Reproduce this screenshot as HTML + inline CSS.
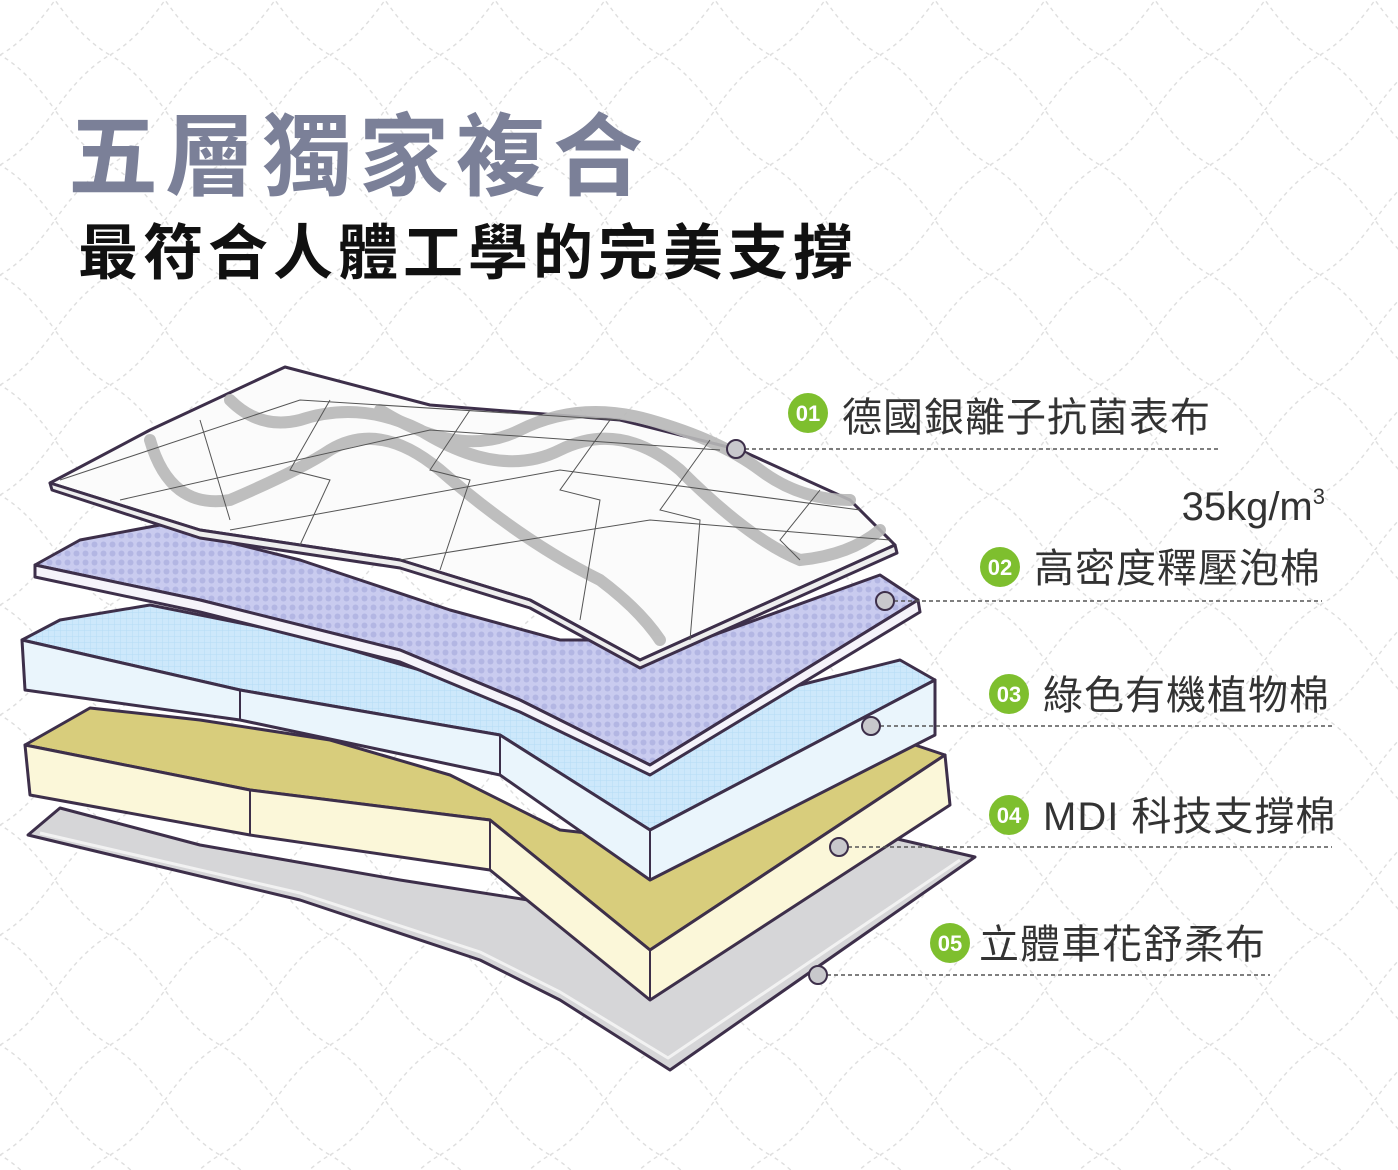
<!DOCTYPE html>
<html><head><meta charset="utf-8"><style>
html,body{margin:0;padding:0;background:#fff}
svg{display:block}
.t{font-family:"Liberation Sans","Noto Sans CJK TC",sans-serif}
</style></head><body>
<svg width="1398" height="1170" viewBox="0 0 1398 1170" xmlns="http://www.w3.org/2000/svg">
<defs>
<pattern id="bg" width="110" height="110" patternUnits="userSpaceOnUse" x="0" y="0">
<path d="M0 55 Q27 40 55 0 Q83 40 110 55 Q83 70 55 110 Q27 70 0 55Z" fill="none" stroke="#dedede" stroke-width="1.4" stroke-dasharray="4 4"/>
</pattern>
<pattern id="dots" width="9" height="9" patternUnits="userSpaceOnUse">
<rect width="9" height="9" fill="#c9cbef"/><circle cx="4.5" cy="4.5" r="3" fill="#b3b6e3"/>
</pattern>
<pattern id="grid" width="6" height="6" patternUnits="userSpaceOnUse">
<rect width="6" height="6" fill="#cde8fb"/><path d="M0 0H6M0 0V6" stroke="#b5dcf6" stroke-width="1"/>
</pattern>
</defs>
<rect width="1398" height="1170" fill="url(#bg)"/>

<text class="t" x="68" y="188" font-size="90" font-weight="bold" fill="#7b8098" letter-spacing="7">五層獨家複合</text>
<text class="t" x="78" y="274" font-size="60" font-weight="bold" fill="#111" letter-spacing="5">最符合人體工學的完美支撐</text>

<g stroke="#3d2f4a" stroke-width="3" stroke-linejoin="round">
<!-- layer 5 grey -->
<path d="M28 835 L60 808 L200 845 L400 880 L560 905 L700 850 L880 835 L975 857 L670 1070 L560 1000 L480 960 L300 900 Z" fill="#d6d6d8"/>
<path d="M40 833 L300 893 L480 952 L560 992 L668 1058 L960 860" fill="none" stroke="#f2f2f2" stroke-width="3"/>
<!-- layer 4 yellow -->
<path d="M25 745 L90 708 L200 720 L330 740 L450 775 L560 830 L650 840 L780 790 L900 740 L945 755 L650 950 L490 820 L250 790 Z" fill="#d8cd7c"/>
<path d="M25 745 L250 790 L490 820 L650 950 L945 755 L950 805 L650 1000 L490 870 L250 835 L30 795 Z" fill="#fbf7d9"/>
<path d="M250 790 L250 835 M490 820 L490 870 M650 950 L650 1000" fill="none" stroke-width="2"/>
<!-- layer 3 blue -->
<path d="M22 640 L60 620 L150 605 L300 635 L420 670 L540 700 L620 720 L780 690 L900 660 L935 680 L650 830 L500 735 L240 690 Z" fill="url(#grid)"/>
<path d="M22 640 L240 690 L500 735 L650 830 L935 680 L935 735 L650 880 L500 775 L240 720 L25 690 Z" fill="#eaf5fc"/>
<path d="M240 690 L240 720 M500 735 L500 775 M650 830 L650 880" fill="none" stroke-width="2"/>
<!-- layer 2 purple -->
<path d="M35 565 L80 540 L160 525 L300 560 L450 610 L560 640 L700 640 L880 575 L918 600 L650 765 L520 700 L400 650 L200 600 Z" fill="url(#dots)"/>
<path d="M35 565 L200 600 L400 650 L520 700 L650 765 L918 600 L920 612 L650 775 L520 712 L400 662 L200 612 L35 577 Z" fill="#f5f3fa"/>
<!-- layer 1 white -->
<path d="M50 483 L150 430 L285 367 L430 405 L620 420 L740 450 L850 500 L895 545 L640 660 L530 600 L400 560 L200 530 Z" fill="#fbfbfb"/>
<path d="M50 483 L200 530 L400 560 L530 600 L640 660 L895 545 L897 553 L640 668 L530 608 L400 568 L200 538 L52 490 Z" fill="#eeeeee"/>
</g>
<!-- quilt waves -->
<g fill="none" stroke="#b8b8b8" stroke-width="12" stroke-linecap="round" opacity="0.9">
<path d="M150 440 Q170 510 230 500 Q300 470 330 450 Q380 420 440 470 Q520 540 600 580 Q640 610 660 640"/>
<path d="M230 400 Q260 430 300 420 Q360 400 420 430 Q500 480 560 450 Q620 420 680 470 Q750 540 800 560 Q850 555 880 530"/>
<path d="M380 410 Q460 460 520 430 Q580 400 650 420 Q720 440 760 470 Q800 500 850 500"/>
</g>
<g fill="none" stroke="#555" stroke-width="1">
<path d="M60 480 L300 400 L620 420 M120 500 L430 430 L720 450 M230 530 L560 470 L860 510 M400 560 L650 520 L890 540"/>
<path d="M200 420 L230 520 M330 400 L290 470 L330 480 L300 545 M470 410 L430 470 L470 480 L440 570 M610 420 L560 490 L600 500 L580 620 M710 440 L660 510 L700 520 L690 640 M820 490 L780 540 L800 560"/>
</g>

<!-- connectors -->
<g stroke="#555" stroke-width="1.5" stroke-dasharray="4 3">
<line x1="745" y1="449" x2="1218" y2="449"/>
<line x1="894" y1="601" x2="1322" y2="601"/>
<line x1="880" y1="726" x2="1332" y2="726"/>
<line x1="848" y1="847" x2="1332" y2="847"/>
<line x1="827" y1="975" x2="1270" y2="975"/>
</g>
<g fill="#c8c8cc" stroke="#3d2f4a" stroke-width="2">
<circle cx="736" cy="449" r="9"/><circle cx="885" cy="601" r="9"/><circle cx="871" cy="726" r="9"/><circle cx="839" cy="847" r="9"/><circle cx="818" cy="975" r="9"/>
</g>
<g fill="#7ebf2e">
<circle cx="808" cy="413" r="20"/><circle cx="1000" cy="567" r="20"/><circle cx="1009" cy="694" r="20"/><circle cx="1009" cy="815" r="20"/><circle cx="950" cy="943" r="20"/>
</g>
<g class="t" fill="#fff" font-size="22" font-weight="bold" text-anchor="middle">
<text x="808" y="421">01</text><text x="1000" y="575">02</text><text x="1009" y="702">03</text><text x="1009" y="823">04</text><text x="950" y="951">05</text>
</g>
<g class="t" fill="#333" font-size="40">
<text x="842" y="431" letter-spacing="1">德國銀離子抗菌表布</text>
<text x="1325" y="520" text-anchor="end">35kg/m<tspan font-size="22" dy="-16">3</tspan></text>
<text x="1034" y="582" letter-spacing="1">高密度釋壓泡棉</text>
<text x="1043" y="709" letter-spacing="1">綠色有機植物棉</text>
<text x="1043" y="830" letter-spacing="1">MDI 科技支撐棉</text>
<text x="979" y="958" letter-spacing="1">立體車花舒柔布</text>
</g>
</svg>
</body></html>
